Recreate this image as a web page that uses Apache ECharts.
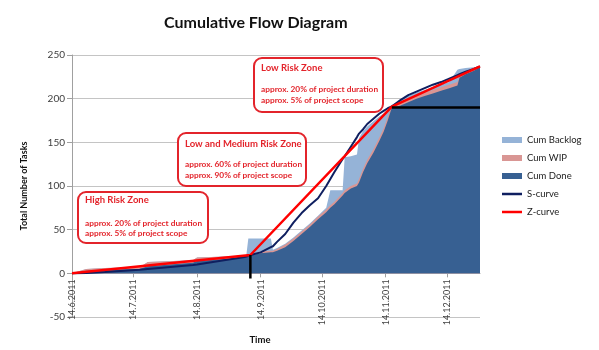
<!DOCTYPE html>
<html><head><meta charset="utf-8">
<script src="https://cdn.jsdelivr.net/npm/echarts@6/dist/echarts.min.js"></script>
<style>html,body{margin:0;padding:0;background:#fff}#c{width:599px;height:350px}</style>
</head><body><div id="c"></div>
<script>
// ---- data ----
const dates = ['2011-06-14','2011-06-21','2011-06-30','2011-07-17','2011-07-21','2011-08-12','2011-08-14','2011-09-07','2011-09-08','2011-09-10','2011-09-14','2011-09-19','2011-09-20','2011-09-22','2011-09-26','2011-09-30','2011-10-04','2011-10-08','2011-10-12','2011-10-16','2011-10-18','2011-10-20','2011-10-24','2011-10-25','2011-10-28','2011-10-31','2011-11-01','2011-11-03','2011-11-05','2011-11-08','2011-11-11','2011-11-13','2011-11-15','2011-11-17','2011-11-21','2011-11-25','2011-11-29','2011-12-03','2011-12-07','2011-12-11','2011-12-15','2011-12-19','2011-12-20','2011-12-23','2011-12-27','2011-12-30'];
const cumBacklog = [0,5,6,7,13,15,18,20,40,40,40,40,27,29,34,41,49,57,66,75,95,95,95,133,134,136,155,163,168,174,180,183,187,193,198,203,207,210,213,216,219,233,234,235,236,237];
const cumWip = [0,5,6,7,13,15,18,20,21,22,25,26,26,28,33,40,48,56,65,73,78,82,92,95,100,103,108,120,130,142,156,166,179,192,195,200,204,207,210,213,216,219,226,230,234,237];
const cumDone = [0,3,4,5,8,12,14,18,19,21,23,24,24,26,30,37,45,53,62,70,75,79,89,92,97,100,104,116,126,138,152,162,175,190,192,196,200,203,206,209,212,215,224,228,232,236];
const sCurve = [0,0.5,1.5,4,5,9.5,10,19,20,21.5,24,30,31,36,45,58,69,78,86,100,108,116,131,134,145,156,160,165,171,177,183,186,189,191,198,204,208,212,216,219,223,227,228,231,234,237];
const zDates = ['2011-06-14','2011-09-09','2011-11-17','2011-12-30'];
const zCurve = [0,21,191,237];
const vLineDates = ['2011-09-09','2011-09-09'];
const vLineValues = [21,-6];
const hLineDates = ['2011-11-17','2011-12-30'];
const hLineValues = [190,190];
const xTickDates = ['2011-06-14','2011-07-14','2011-08-14','2011-09-14','2011-10-14','2011-11-14','2011-12-14'];
const xRange = ['2011-06-14','2011-12-30'];
const yTicks = {min:-50, max:250, step:50};
const seriesNames = ['Cum Backlog','Cum WIP','Cum Done','S-curve','Z-curve'];
const zones = [
  {title:'High Risk Zone', l1:'approx. 20% of project duration', l2:'approx. 5% of project scope'},
  {title:'Low and Medium Risk Zone', l1:'approx. 60% of project duration', l2:'approx. 90% of project scope'},
  {title:'Low Risk Zone', l1:'approx. 20% of project duration', l2:'approx. 5% of project scope'}
];

// ---- helpers ----
function ts(s){const p=s.split('-').map(Number);return new Date(p[0],p[1]-1,p[2]).getTime();}
function pairs(ds,vs){return ds.map((d,i)=>[ts(d),vs[i]]);}
const FONT='Lato, "Open Sans", sans-serif';
const RED='#e3242b';
const C_BACK='#95b3d7', C_WIP='#d99694', C_DONE='#376092', C_S='#0f1f60', C_Z='#ff0000';

// ---- layout ----
const GRID={left:72,right:119,top:55,bottom:33};
const plotH=350-GRID.top-GRID.bottom;
const zeroOffset=-plotH*(0-yTicks.min)/(yTicks.max-yTicks.min); // move x axis up to value 0

const boxes=[{x:78,y:192,w:130,h:51,t:8,a:31,b:41},{x:178,y:133,w:128,h:53,t:10.5,a:31.5,b:42},{x:254,y:58,w:129,h:54,t:10,a:31.5,b:42}];
const graphics=[];
boxes.forEach((b,i)=>{
  graphics.push({type:'rect',shape:{x:b.x,y:b.y,width:b.w,height:b.h,r:8},style:{fill:'#fff',stroke:RED,lineWidth:2},z:100});
  graphics.push({type:'text',x:b.x+7,y:b.y+b.t,style:{text:zones[i].title,fill:RED,font:'bold 9.5px '+FONT,verticalAlign:'middle',align:'left'},z:101});
  graphics.push({type:'text',x:b.x+7,y:b.y+b.a,style:{text:zones[i].l1,fill:RED,font:'bold 8.3px '+FONT,verticalAlign:'middle',align:'left'},z:101});
  graphics.push({type:'text',x:b.x+7,y:b.y+b.b,style:{text:zones[i].l2,fill:RED,font:'bold 8.3px '+FONT,verticalAlign:'middle',align:'left'},z:101});
});
graphics.push({type:'text',x:260,y:340,style:{text:'Time',fill:'#111',font:'bold 9.5px '+FONT,verticalAlign:'middle',align:'center'}});

const chart=echarts.init(document.getElementById('c'),null,{renderer:'canvas'});
const areaSeries=(name,vals,color)=>({name,type:'line',data:pairs(dates,vals),symbol:'none',color,lineStyle:{width:0,color},areaStyle:{color,opacity:1},silent:true});
chart.setOption({
  animation:false,
  backgroundColor:'#fff',
  title:{text:'Cumulative Flow Diagram',left:159,top:10,textStyle:{fontFamily:FONT,fontSize:16,fontWeight:'bold',color:'#111'}},
  grid:Object.assign({outerBoundsMode:'none',containLabel:false},GRID),
  legend:{orient:'vertical',left:497,top:129,itemWidth:20,itemHeight:6,itemGap:6,selectedMode:false,
    textStyle:{fontFamily:FONT,fontSize:9.5,color:'#222',lineHeight:12},
    data:[{name:seriesNames[0],icon:'rect'},{name:seriesNames[1],icon:'rect'},{name:seriesNames[2],icon:'rect'},
      {name:seriesNames[3],icon:'path://M0,0L20,0L20,2.5L0,2.5Z'},{name:seriesNames[4],icon:'path://M0,0L20,0L20,2.5L0,2.5Z'}]},
  xAxis:{type:'value',min:ts(xRange[0]),max:ts(xRange[1]),position:'bottom',offset:zeroOffset,
    axisLine:{onZero:false,lineStyle:{color:'#a0a0a0'}},
    axisTick:{show:true,length:4,customValues:xTickDates.map(ts),lineStyle:{color:'#a0a0a0'}},
    axisLabel:{rotate:90,customValues:xTickDates.map(ts),margin:6,fontFamily:FONT,fontSize:9,color:'#404040',
      formatter:v=>{const d=new Date(v);return d.getDate()+'.'+(d.getMonth()+1)+'.'+d.getFullYear();}},
    splitLine:{show:false}},
  yAxis:{type:'value',min:yTicks.min,max:yTicks.max,interval:yTicks.step,
    name:'Total Number of Tasks',nameLocation:'middle',nameGap:43,
    nameTextStyle:{fontFamily:FONT,fontSize:9,fontWeight:'bold',color:'#111'},
    axisLine:{show:true,lineStyle:{color:'#a0a0a0'}},
    axisTick:{show:true,length:5,lineStyle:{color:'#a0a0a0'}},
    axisLabel:{margin:7,fontFamily:FONT,fontSize:10,color:'#404040'},
    splitLine:{lineStyle:{color:'#c4c4c4'}}},
  graphic:graphics,
  series:[
    areaSeries(seriesNames[0],cumBacklog,C_BACK),
    areaSeries(seriesNames[1],cumWip,C_WIP),
    areaSeries(seriesNames[2],cumDone,C_DONE),
    {name:seriesNames[3],type:'line',data:pairs(dates,sCurve),symbol:'none',color:C_S,lineStyle:{width:2,color:C_S}},
    {name:seriesNames[4],type:'line',data:pairs(zDates,zCurve),symbol:'none',color:C_Z,lineStyle:{width:2.5,color:C_Z}},
    {type:'line',data:pairs(vLineDates,vLineValues),symbol:'none',lineStyle:{width:2.5,color:'#000'},color:'#000'},
    {type:'line',data:pairs(hLineDates,hLineValues),symbol:'none',lineStyle:{width:2.5,color:'#000'},color:'#000'}
  ]
});
</script></body></html>
